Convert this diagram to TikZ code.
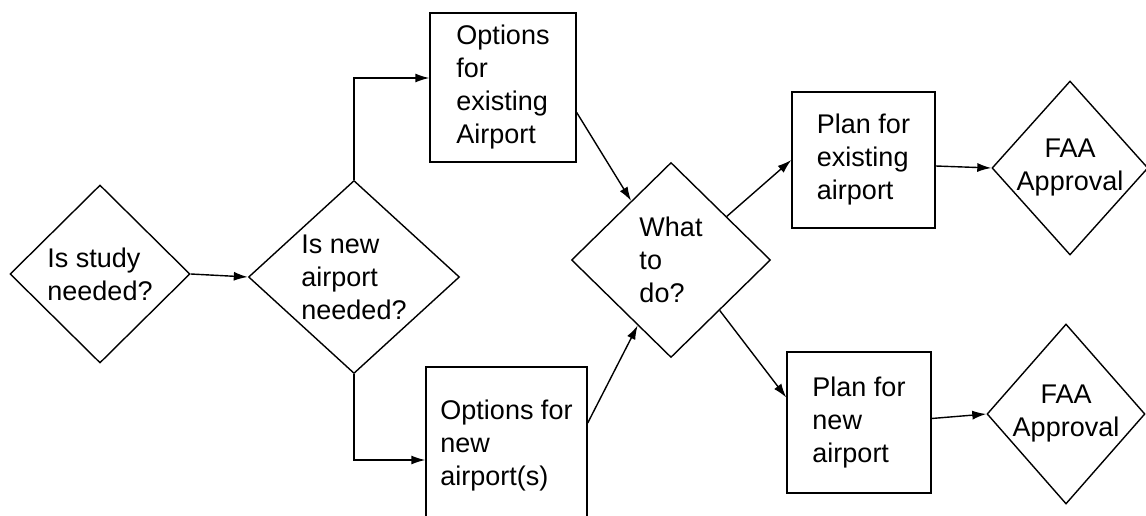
\documentclass[tikz,border=0pt]{standalone}
\usepackage{fontspec}
\setmainfont{Liberation Sans}
\usetikzlibrary{arrows.meta,shapes.geometric}

\begin{document}
\begin{tikzpicture}[x=1pt,y=-1pt,
  >={Latex[length=14pt,width=9pt]},
  every node/.style={font=\fontsize{27}{33}\selectfont},
  decision/.style={diamond,draw,line width=1.4pt,inner sep=0pt,align=left},
  box/.style={rectangle,draw,line width=1.4pt,inner sep=0pt,align=left},
  flow/.style={->,line width=1.4pt}]
\useasboundingbox (0,0) rectangle (1146,516);

% Questions on the left
\node[decision,minimum width=180pt,minimum height=178pt] (study) at (100,274) {Is study\\needed?};
\node[decision,minimum width=211pt,minimum height=193pt] (newap) at (354,277) {Is new\\airport\\needed?};

% Options
\node[box,minimum width=146pt,minimum height=149pt] (optex) at (503,87.5) {Options\\for\\existing\\Airport};
\node[box,minimum width=161pt,minimum height=158pt] (optnew) at (506.5,446) {Options for\\new\\airport(s)};

\node[decision,minimum width=199pt,minimum height=195pt] (what) at (671,260) {What\\to\\do?};

% Plans and approvals
\node[box,minimum width=143pt,minimum height=136pt] (planex) at (863.5,160) {Plan for\\existing\\airport};
\node[box,minimum width=144pt,minimum height=141pt] (plannew) at (859,422.5) {Plan for\\new\\airport};
\node[decision,align=center,inner xsep=-8pt,minimum width=156pt,minimum height=174pt] (faaex) at (1070,168) {FAA\\Approval};
\node[decision,align=center,inner xsep=-8pt,minimum width=158pt,minimum height=180pt] (faanew) at (1066,414) {FAA\\Approval};

% Connectors
\draw[flow] (study.east) -- (newap.west);
\draw[flow] (newap.north) |- ([yshift=9.5pt]optex.west);
\draw[flow] (newap.south) |- ([yshift=-14pt]optnew.west);
\draw[flow] ([yshift=-25pt]optex.east) -- (what.124);
\draw[flow] ([yshift=23pt]optnew.east) -- (what.243);
\draw[flow] (what.38) -- (planex.west);
\draw[flow] (what.314) -- ([yshift=25pt]plannew.west);
\draw[flow] ([yshift=-6pt]planex.east) -- (faaex.west);
\draw[flow] ([yshift=4pt]plannew.east) -- (faanew.west);
\end{tikzpicture}
\end{document}
